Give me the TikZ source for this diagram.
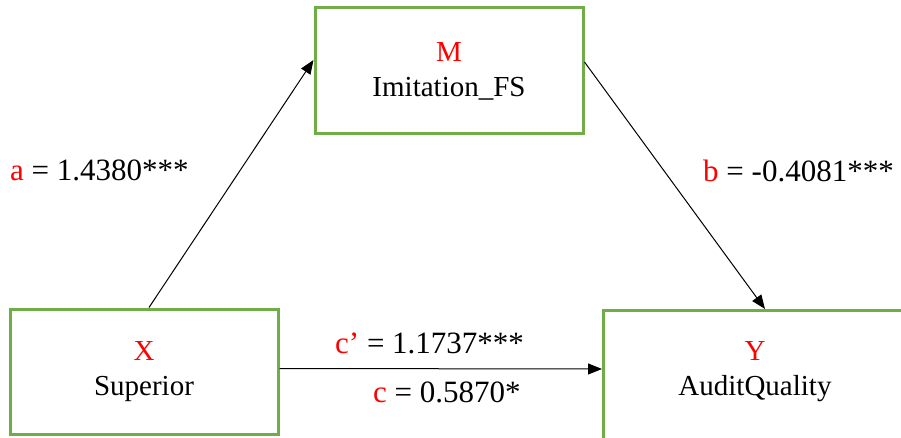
\documentclass[tikz,border=0pt]{standalone}
\usepackage{fontspec}
\setmainfont{Liberation Serif}
\usetikzlibrary{arrows.meta,calc}
\definecolor{boxgreen}{RGB}{112,173,71}
\definecolor{lblred}{RGB}{255,0,0}
\tikzset{
  box/.style={draw=boxgreen, line width=3pt, fill=white, inner sep=0pt,
    align=center, font=\fontsize{29}{35}\selectfont},
  arr/.style={-{Triangle[length=14pt,width=11pt]}, line width=1pt, black},
  lbl/.style={anchor=base west, inner sep=0pt, font=\fontsize{31}{36}\selectfont}
}
\begin{document}
\begin{tikzpicture}[x=1pt,y=1pt]
\useasboundingbox (0,0) rectangle (901,437);
\clip (0,0) rectangle (901,437);
% boxes
\node[box, minimum width=268pt, minimum height=126pt] (M) at (449,366)
  {\textcolor{lblred}{M}\\Imitation\_FS};
\node[box, minimum width=268pt, minimum height=125pt] (X) at (144,65.5)
  {\textcolor{lblred}{X}\\Superior};
\node[box, minimum width=306pt, minimum height=150pt, anchor=north west] (Y) at (602,128) {};
\node[align=center, inner sep=0pt, font=\fontsize{29}{35}\selectfont] (Ytext) at (755,65.5)
  {\textcolor{lblred}{Y}\\AuditQuality};
% connectors
\draw[arr] ([xshift=5pt]X.north) -- ([yshift=11pt]M.west);
\draw[arr] ([yshift=9pt]M.east) -- ([xshift=163pt]Y.north west);
\draw[arr] ([yshift=3pt]X.east) -- ($(Y.north west)+(0,-60)$);
% labels
\node[lbl] (la) at (10,257) {\textcolor{lblred}{a} = 1.4380***};
\node[lbl] (lb) at (703,255) {\textcolor{lblred}{b} = -0.4081***};
\node[lbl] (lc1) at (335,84) {\textcolor{lblred}{c’} = 1.1737***};
\node[lbl] (lc) at (373,35) {\textcolor{lblred}{c} = 0.5870*};
\end{tikzpicture}
\end{document}
